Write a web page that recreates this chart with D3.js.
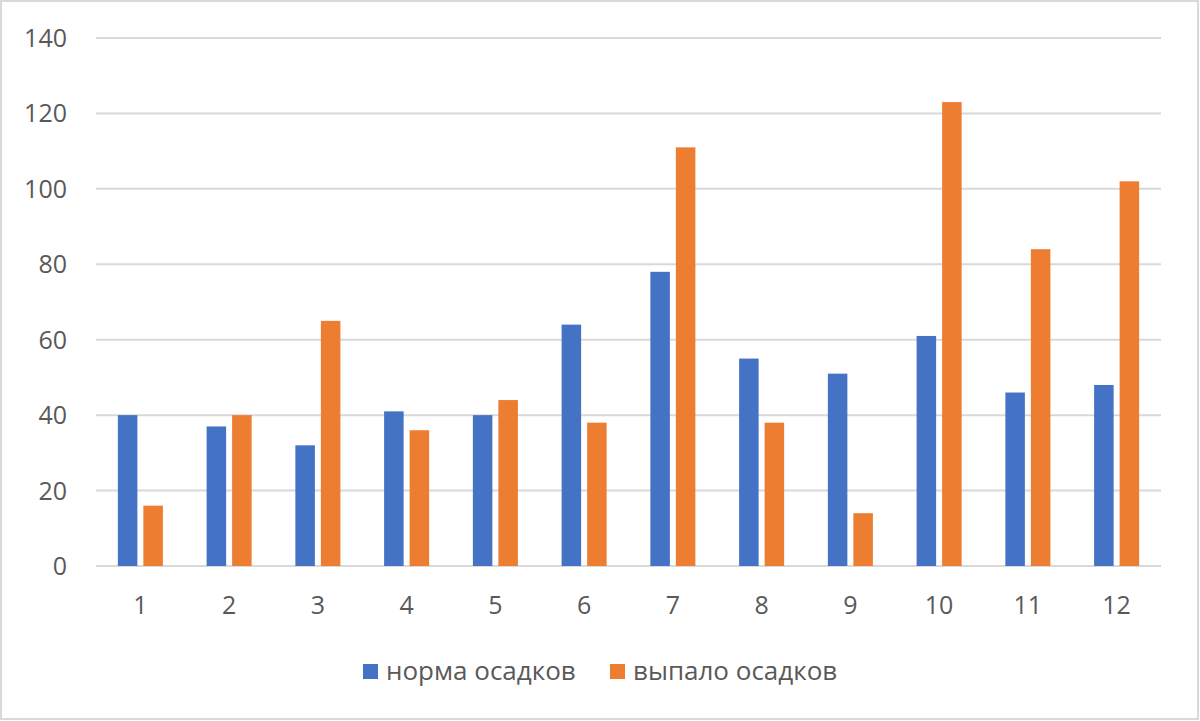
<!DOCTYPE html>
<html>
<head>
<meta charset="utf-8">
<script src="https://cdn.jsdelivr.net/npm/d3@7"></script>
<style>
  body { margin: 0; background: #fff; }
  svg { display: block; }
</style>
</head>
<body>
<div id="chart"></div>
<script>
const months = ["1", "2", "3", "4", "5", "6", "7", "8", "9", "10", "11", "12"];
const normValues = [40, 37, 32, 41, 40, 64, 78, 55, 51, 61, 46, 48];
const fellValues = [16, 40, 65, 36, 44, 38, 111, 38, 14, 123, 84, 102];
const seriesNames = ["норма осадков", "выпало осадков"];
const seriesColors = ["#4472c4", "#ed7d31"];
const yTicks = [0, 20, 40, 60, 80, 100, 120, 140];

const width = 1200;
const height = 721;
const plot = {left: 96, right: 1161, top: 38, bottom: 566};
const fontFam = "'Open Sans', 'Noto Sans', sans-serif";

const svg = d3.select("#chart").append("svg")
    .attr("width", width)
    .attr("height", height);

// border
svg.append("rect")
    .attr("x", 1).attr("y", 1)
    .attr("width", width - 3).attr("height", height - 3)
    .attr("fill", "#fff")
    .attr("stroke", "#d9d9d9")
    .attr("stroke-width", 2);

const xScale = d3.scaleBand()
    .domain(months)
    .range([plot.left, plot.right]);

const inner = d3.scaleBand()
    .domain([0, 1])
    .range([0, xScale.bandwidth()])
    .paddingInner(0.235)
    .paddingOuter(0.857);

const yScale = d3.scaleLinear()
    .domain([0, 140])
    .range([plot.bottom, plot.top]);

// gridlines
svg.append("g")
    .selectAll("line")
    .data(yTicks).enter()
    .append("line")
    .attr("x1", plot.left)
    .attr("x2", plot.right)
    .attr("y1", d => yScale(d))
    .attr("y2", d => yScale(d))
    .attr("stroke", "#d9d9d9")
    .attr("stroke-width", 2);

// y labels
svg.append("g")
    .selectAll("text")
    .data(yTicks).enter()
    .append("text")
    .attr("x", 67)
    .attr("y", d => yScale(d) + 9)
    .attr("text-anchor", "end")
    .attr("font-family", fontFam)
    .attr("font-size", 25)
    .attr("fill", "#595959")
    .text(d => d);

// x labels
svg.append("g")
    .selectAll("text")
    .data(months).enter()
    .append("text")
    .attr("x", d => xScale(d) + xScale.bandwidth() / 2)
    .attr("y", 614)
    .attr("text-anchor", "middle")
    .attr("font-family", fontFam)
    .attr("font-size", 25)
    .attr("fill", "#595959")
    .text(d => d);

// bars
[normValues, fellValues].forEach((vals, s) => {
    svg.append("g")
    .selectAll("rect")
    .data(vals).enter()
    .append("rect")
    .attr("x", (d, i) => xScale(months[i]) + inner(s))
    .attr("y", d => yScale(d))
    .attr("width", inner.bandwidth())
    .attr("height", d => yScale(0) - yScale(d))
    .attr("fill", seriesColors[s]);
});

// legend
const legendX = [363, 610];
const legend = svg.append("g");
seriesNames.forEach((name, s) => {
    legend.append("rect")
    .attr("x", legendX[s])
    .attr("y", 664)
    .attr("width", 15)
    .attr("height", 15)
    .attr("fill", seriesColors[s]);
    legend.append("text")
    .attr("x", legendX[s] + 23)
    .attr("y", 680)
    .attr("font-family", fontFam)
    .attr("font-size", 26)
    .attr("fill", "#595959")
    .text(name);
});
</script>
</body>
</html>
